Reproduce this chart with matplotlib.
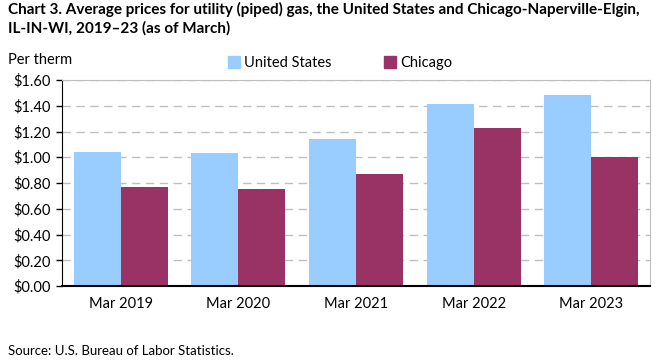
import numpy as np
import matplotlib
matplotlib.use('Agg')
import matplotlib.pyplot as plt
from matplotlib.patches import Patch

# Data (dollars per therm, March of each year)
categories = ["Mar 2019", "Mar 2020", "Mar 2021", "Mar 2022", "Mar 2023"]
us_prices = [1.04, 1.03, 1.14, 1.41, 1.48]
chicago_prices = [0.77, 0.75, 0.87, 1.23, 1.00]
yticks = [0.0, 0.2, 0.4, 0.6, 0.8, 1.0, 1.2, 1.4, 1.6]

US_COLOR = '#99ccff'
CHI_COLOR = '#993366'

plt.rcParams['font.family'] = ['Lato', 'DejaVu Sans']

fig = plt.figure(figsize=(6.61, 3.61), dpi=100)
ax = fig.add_axes([62 / 661, 75 / 361, 588 / 661, 206 / 361])

x = np.arange(len(categories))
w = 0.4
ax.bar(x - w / 2, us_prices, width=w, color=US_COLOR, zorder=2)
ax.bar(x + w / 2, chicago_prices, width=w, color=CHI_COLOR, zorder=2)

ax.set_xlim(-0.5, len(categories) - 0.5)
ax.set_ylim(0, 1.6)
ax.set_yticks(yticks)
ax.set_yticklabels([f'${v:.2f}' for v in yticks], fontsize=10.5)
ax.set_xticks(x)
ax.set_xticklabels(categories, fontsize=10.5)
ax.tick_params(axis='x', length=0, pad=8)
ax.tick_params(axis='y', length=4, width=1, pad=4)

# dashed gridlines
ax.yaxis.grid(True, color='#bfbfbf', linestyle=(0, (6, 4)), linewidth=1, zorder=1)
ax.set_axisbelow(True)

for side in ['top', 'right']:
    ax.spines[side].set_color('#bfbfbf')
ax.spines['left'].set_color('black')
ax.spines['bottom'].set_color('black')
ax.spines['bottom'].set_linewidth(1.5)

# title, axis label, source
fig.text(8 / 661, 1 - 2 / 361,
         "Chart 3. Average prices for utility (piped) gas, the United States and Chicago-Naperville-Elgin,\nIL-IN-WI, 2019\u201323 (as of March)",
         fontsize=11.0, fontweight='bold', ha='left', va='top', linespacing=1.35)
fig.text(8 / 661, 1 - 60 / 361, "Per therm", fontsize=10.5, ha='left', va='center')
fig.text(8 / 661, 1 - 351 / 361, "Source: U.S. Bureau of Labor Statistics.",
         fontsize=9.5, ha='left', va='center')

# legend at top
handles = [Patch(color=US_COLOR, label='United States'),
           Patch(color=CHI_COLOR, label='Chicago')]
fig.legend(handles=handles, loc='center left', bbox_to_anchor=(215 / 661, 1 - 63 / 361),
           ncol=2, frameon=False, fontsize=10.5, handlelength=0.8, handleheight=0.8,
           handletextpad=0.3, columnspacing=3.6)

plt.savefig('out.png', dpi=100)
plt.close()
